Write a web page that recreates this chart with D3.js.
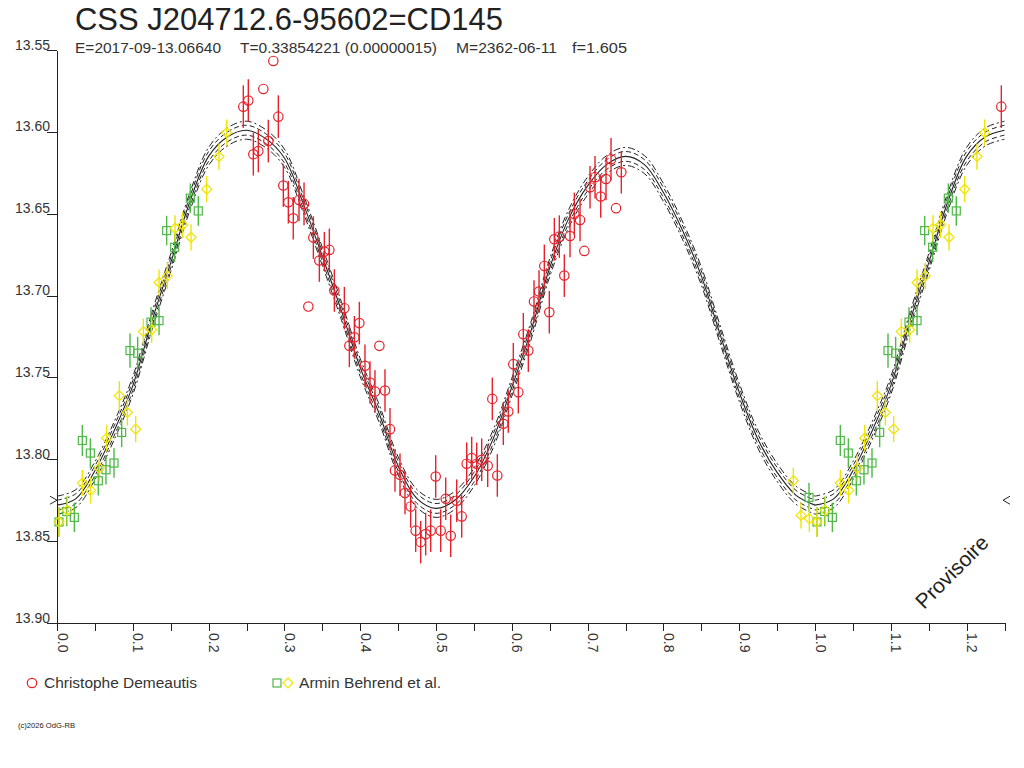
<!DOCTYPE html>
<html>
<head>
<meta charset="utf-8">
<title>CSS J204712.6-95602=CD145</title>
<script src="https://cdn.jsdelivr.net/npm/d3@7"></script>
<style>
  body { margin: 0; background: #fff; }
  text { font-family: "Liberation Sans", Arial, sans-serif; fill: #333; }
</style>
</head>
<body>
<div class="canvas"></div>
<script>
// fitted light curve (phase / magnitude)
const fitPhase = [0, 0.025, 0.05, 0.075, 0.1, 0.125, 0.15, 0.175, 0.2, 0.225,
  0.25, 0.275, 0.3, 0.325, 0.35, 0.375, 0.4, 0.425, 0.45, 0.475,
  0.5, 0.525, 0.55, 0.575, 0.6, 0.625, 0.65, 0.675, 0.7, 0.725,
  0.75, 0.775, 0.8, 0.825, 0.85, 0.875, 0.9, 0.925, 0.95, 0.975, 1.0];
const fitMag = [13.828, 13.824, 13.807, 13.783, 13.755, 13.716, 13.680, 13.643, 13.615, 13.603,
  13.599, 13.604, 13.616, 13.644, 13.676, 13.709, 13.744, 13.772, 13.804, 13.824,
  13.830, 13.825, 13.811, 13.788, 13.756, 13.722, 13.683, 13.653, 13.633, 13.620,
  13.615, 13.620, 13.637, 13.660, 13.688, 13.724, 13.759, 13.788, 13.808, 13.822, 13.828];
// band around the fit (mag offsets)
const bandOffsets = [-0.0055, -0.003, 0.003, 0.0055];

// Christophe Demeautis
const redPhase = [0.2854, 0.2722, 0.2458, 0.2524, 0.2920, 0.2590, 0.2656, 0.2788, 0.2986, 0.3052,
  0.3117, 0.3193, 0.3259, 0.3316, 0.3382, 0.3461, 0.3527, 0.3593, 0.3659, 0.3791,
  0.3857, 0.3923, 0.3989, 0.4253, 0.4063, 0.4129, 0.4195, 0.4327, 0.4393, 0.4459,
  0.4525, 0.4591, 0.4666, 0.4732, 0.4798, 0.4864, 0.4930, 0.4996, 0.5062, 0.5128,
  0.5194, 0.5273, 0.5339, 0.5405, 0.5471, 0.5537, 0.5603, 0.5682, 0.5743, 0.5809,
  0.5888, 0.5954, 0.6020, 0.6086, 0.6152, 0.6218, 0.6293, 0.6359, 0.6429, 0.6495,
  0.6561, 0.6627, 0.6693, 0.6768, 0.6825, 0.6900, 0.6957, 0.7032, 0.7098, 0.7173,
  0.7243, 0.7309, 0.7375, 0.7445];
const redMag = [13.5567, 13.5738, 13.5846, 13.5809, 13.5907, 13.6137, 13.6117, 13.6056, 13.6328, 13.6430,
  13.6528, 13.6416, 13.6440, 13.7067, 13.6646, 13.6786, 13.6731, 13.6721, 13.6969, 13.7077,
  13.7307, 13.7255, 13.7168, 13.7307, 13.7429, 13.7531, 13.7586, 13.7580, 13.7816, 13.8068,
  13.8095, 13.8206, 13.8288, 13.8436, 13.8506, 13.8457, 13.8436, 13.8105, 13.8436, 13.8241,
  13.8467, 13.8253, 13.8349, 13.8027, 13.7993, 13.8027, 13.8003, 13.8040, 13.7631, 13.8099,
  13.7783, 13.7708, 13.7419, 13.7590, 13.7236, 13.7336, 13.7036, 13.6975, 13.6819, 13.7102,
  13.6656, 13.6640, 13.6878, 13.6636, 13.6501, 13.6538, 13.6727, 13.6338, 13.6277, 13.6395,
  13.6288, 13.6167, 13.6466, 13.6247];
const redErr = [0, 0, 0.013, 0.013, 0.013, 0.013, 0.013, 0.013, 0.013, 0.013,
  0.013, 0.013, 0.013, 0, 0.013, 0.013, 0.012, 0.013, 0.013, 0.013,
  0.013, 0.013, 0.013, 0, 0.013, 0.013, 0.013, 0.013, 0.013, 0.013,
  0.013, 0.013, 0.013, 0.013, 0.013, 0.013, 0.013, 0.013, 0.013, 0.013,
  0.013, 0.013, 0.013, 0.013, 0.013, 0.013, 0.013, 0.013, 0.013, 0.013,
  0.013, 0.013, 0.013, 0.013, 0.013, 0.013, 0.013, 0.013, 0.013, 0.013,
  0.013, 0.013, 0.013, 0.013, 0.013, 0.013, 0, 0.013, 0.013, 0.013,
  0.013, 0.013, 0, 0.013];

// Armin Behrend et al. (green squares)
const greenPhase = [0.0026, 0.0128, 0.0229, 0.0334, 0.0440, 0.0545, 0.0646, 0.0752, 0.0853, 0.0963,
  0.1064, 0.1240, 0.1346, 0.1447, 0.1552, 0.1759, 0.1864, 0.9921];
const greenMag = [13.8383, 13.8319, 13.8355, 13.7885, 13.7962, 13.8131, 13.8064, 13.8023, 13.7836, 13.7336,
  13.7352, 13.7162, 13.7153, 13.6603, 13.6705, 13.6405, 13.6483, 13.8233];
const greenErr = [0.009, 0.009, 0.009, 0.0095, 0.009, 0.009, 0.009, 0.009, 0.009, 0.0105,
  0.010, 0.009, 0.009, 0.009, 0.009, 0.009, 0.009, 0.009];

// Armin Behrend et al. (yellow diamonds)
const yellowPhase = [0.0026, 0.0136, 0.0334, 0.0444, 0.0558, 0.0655, 0.0822, 0.0928, 0.1038, 0.1139,
  0.1249, 0.1346, 0.1455, 0.1557, 0.1658, 0.1768, 0.1975, 0.2137, 0.2239, 0.9714,
  0.9815, 0.9925];
const yellowMag = [13.8383, 13.8312, 13.8145, 13.8190, 13.8054, 13.7871, 13.7612, 13.7714, 13.7816, 13.7220,
  13.7209, 13.6920, 13.6880, 13.6589, 13.6568, 13.6644, 13.6350, 13.6151, 13.6005, 13.8131,
  13.8343, 13.8363];
const yellowErr = [0.009, 0.009, 0.008, 0.008, 0.008, 0.008, 0.009, 0.008, 0.008, 0.008,
  0.008, 0.008, 0.008, 0.008, 0.008, 0.008, 0.008, 0.008, 0.008, 0.008,
  0.008, 0.008];

// axes
const xTicks = [0, 0.05, 0.1, 0.15, 0.2, 0.25, 0.3, 0.35, 0.4, 0.45, 0.5, 0.55, 0.6,
  0.65, 0.7, 0.75, 0.8, 0.85, 0.9, 0.95, 1.0, 1.05, 1.1, 1.15, 1.2, 1.25];
const xTickLabels = [0, 0.1, 0.2, 0.3, 0.4, 0.5, 0.6, 0.7, 0.8, 0.9, 1.0, 1.1, 1.2];
const yTicks = [13.55, 13.60, 13.65, 13.70, 13.75, 13.80, 13.85, 13.90];
const markerMag = 13.825;

const title = 'CSS J204712.6-95602=CD145';
const subtitle = ['E=2017-09-13.06640', 'T=0.33854221 (0.00000015)', 'M=2362-06-11', 'f=1.605'];
const legendNames = ['Christophe Demeautis', 'Armin Behrend et al.'];

const colors = { red: '#e8202a', green: '#4fb848', yellow: '#f0e400', ink: '#222' };

const svg = d3.select('.canvas')
  .append('svg')
  .attr('width', 1024)
  .attr('height', 768);

// scales
const x = d3.scaleLinear()
  .domain([0, 1.25])
  .range([57, 1004.5]);

const y = d3.scaleLinear()
  .domain([13.55, 13.90])
  .range([50, 623]);

// points are shown again one cycle later while they fit in the window
const wrap = (phase, mag, err) => {
  const pts = phase.map((p, i) => ({ p, m: mag[i], e: err ? err[i] : 0 }));
  return pts.concat(pts.filter(d => d.p + 1 <= 1.25).map(d => ({ ...d, p: d.p + 1 })))
    .sort((a, b) => a.p - b.p);
};

// title
svg.append('text')
  .attr('x', 75)
  .attr('y', 30)
  .attr('font-size', 31)
  .attr('textLength', 428)
  .attr('lengthAdjust', 'spacingAndGlyphs')
  .style('fill', colors.ink)
  .text(title);

const subX = [75, 240, 456, 572];
const subW = [146, 197, 101, 55];
svg.selectAll('.sub')
  .data(subtitle)
  .enter()
  .append('text')
  .attr('class', 'sub')
  .attr('x', (d, i) => subX[i])
  .attr('y', 53)
  .attr('font-size', 14)
  .attr('textLength', (d, i) => subW[i])
  .attr('lengthAdjust', 'spacingAndGlyphs')
  .text(d => d);

// y axis
const yAxis = d3.axisLeft(y)
  .tickValues(yTicks)
  .tickSize(10)
  .tickSizeOuter(0)
  .tickFormat(d3.format('.2f'));

const yAxisGroup = svg.append('g')
  .attr('transform', 'translate(57, 0)')
  .call(yAxis);

yAxisGroup.selectAll('text')
  .attr('x', -7)
  .attr('dy', '-1')
  .attr('font-size', 14)
  .attr('font-family', '"Liberation Sans", Arial, sans-serif')
  .style('fill', '#333');

// x axis
const xAxis = d3.axisBottom(x)
  .tickValues(xTicks)
  .tickSize(8)
  .tickSizeOuter(0)
  .tickFormat(d => xTickLabels.some(v => Math.abs(v - d) < 1e-9) ? d3.format('.1f')(d) : '');

const xAxisGroup = svg.append('g')
  .attr('transform', 'translate(0, 623)')
  .call(xAxis);

xAxisGroup.selectAll('text')
  .attr('text-anchor', 'start')
  .attr('transform', 'rotate(90)')
  .attr('x', 10)
  .attr('y', 0)
  .attr('dy', '0')
  .attr('font-size', 14)
  .attr('font-family', '"Liberation Sans", Arial, sans-serif')
  .style('fill', '#333');

svg.selectAll('.domain, .tick line')
  .attr('stroke', colors.ink)
  .attr('shape-rendering', 'crispEdges');

// extend x axis line under the y ticks
svg.append('line')
  .attr('x1', 47).attr('x2', 57)
  .attr('y1', 623.5).attr('y2', 623.5)
  .attr('stroke', colors.ink);

// fit curve and its band
const fitPts = wrap(fitPhase, fitMag);
const line = off => d3.line()
  .x(d => x(d.p))
  .y(d => y(d.m + off))
  .curve(d3.curveCatmullRom)(fitPts);

const fitGroup = svg.append('g');
bandOffsets.forEach(off => {
  fitGroup.append('path')
    .attr('d', line(off))
    .attr('fill', 'none')
    .attr('stroke', colors.ink)
    .attr('stroke-width', 1)
    .attr('stroke-dasharray', Math.abs(off) > 0.004 ? '7,3,2,3' : '5,3');
});
fitGroup.append('path')
  .attr('d', line(0))
  .attr('fill', 'none')
  .attr('stroke', colors.ink)
  .attr('stroke-width', 1.1);

// minimum markers
const my = y(markerMag);
svg.append('path')
  .attr('d', `M50,${my - 4}L57,${my}L50,${my + 4}`)
  .attr('fill', 'none')
  .attr('stroke', colors.ink);
svg.append('path')
  .attr('d', `M1010,${my - 4}L1003,${my}L1010,${my + 4}`)
  .attr('fill', 'none')
  .attr('stroke', colors.ink);

// error bars
const errorBars = (pts, color) => {
  svg.append('g')
    .selectAll('line')
    .data(pts.filter(d => d.e > 0))
    .enter()
    .append('line')
    .attr('x1', d => x(d.p))
    .attr('x2', d => x(d.p))
    .attr('y1', d => y(d.m - d.e))
    .attr('y2', d => y(d.m + d.e))
    .attr('stroke', color)
    .attr('stroke-width', 1.4);
};

const greenPts = wrap(greenPhase, greenMag, greenErr);
const yellowPts = wrap(yellowPhase, yellowMag, yellowErr);
const redPts = wrap(redPhase, redMag, redErr);

errorBars(greenPts, colors.green);
errorBars(yellowPts, colors.yellow);
errorBars(redPts, colors.red);

// markers
svg.append('g')
  .selectAll('rect')
  .data(greenPts)
  .enter()
  .append('rect')
  .attr('x', d => x(d.p) - 4)
  .attr('y', d => y(d.m) - 4)
  .attr('width', 8)
  .attr('height', 8)
  .attr('fill', 'none')
  .attr('stroke', colors.green)
  .attr('stroke-width', 1.2);

svg.append('g')
  .selectAll('path')
  .data(yellowPts)
  .enter()
  .append('path')
  .attr('d', d => {
    const cx = x(d.p), cy = y(d.m);
    return `M${cx},${cy - 5}L${cx + 5},${cy}L${cx},${cy + 5}L${cx - 5},${cy}Z`;
  })
  .attr('fill', 'none')
  .attr('stroke', colors.yellow)
  .attr('stroke-width', 1.2);

svg.append('g')
  .selectAll('circle')
  .data(redPts)
  .enter()
  .append('circle')
  .attr('cx', d => x(d.p))
  .attr('cy', d => y(d.m))
  .attr('r', 4.7)
  .attr('fill', 'none')
  .attr('stroke', colors.red)
  .attr('stroke-width', 1.2);

// legend
svg.append('circle')
  .attr('cx', 32).attr('cy', 683).attr('r', 4.7)
  .attr('fill', 'none')
  .attr('stroke', colors.red)
  .attr('stroke-width', 1.2);
svg.append('text')
  .attr('x', 44).attr('y', 688)
  .attr('font-size', 14)
  .attr('textLength', 153)
  .attr('lengthAdjust', 'spacingAndGlyphs')
  .text(legendNames[0]);

svg.append('rect')
  .attr('x', 273).attr('y', 679).attr('width', 8).attr('height', 8)
  .attr('fill', 'none')
  .attr('stroke', colors.green)
  .attr('stroke-width', 1.2);
svg.append('path')
  .attr('d', 'M288,678L293,683L288,688L283,683Z')
  .attr('fill', 'none')
  .attr('stroke', colors.yellow)
  .attr('stroke-width', 1.2);
svg.append('text')
  .attr('x', 299).attr('y', 688)
  .attr('font-size', 14)
  .attr('textLength', 142)
  .attr('lengthAdjust', 'spacingAndGlyphs')
  .text(legendNames[1]);

// watermark and credit
svg.append('text')
  .attr('transform', 'translate(924, 610) rotate(-45)')
  .attr('font-size', 21)
  .style('fill', colors.ink)
  .text('Provisoire');

svg.append('text')
  .attr('x', 18).attr('y', 728)
  .attr('font-size', 8)
  .attr('textLength', 57)
  .attr('lengthAdjust', 'spacingAndGlyphs')
  .style('fill', colors.ink)
  .text('(c)2026 OdG-RB');
</script>
</body>
</html>
